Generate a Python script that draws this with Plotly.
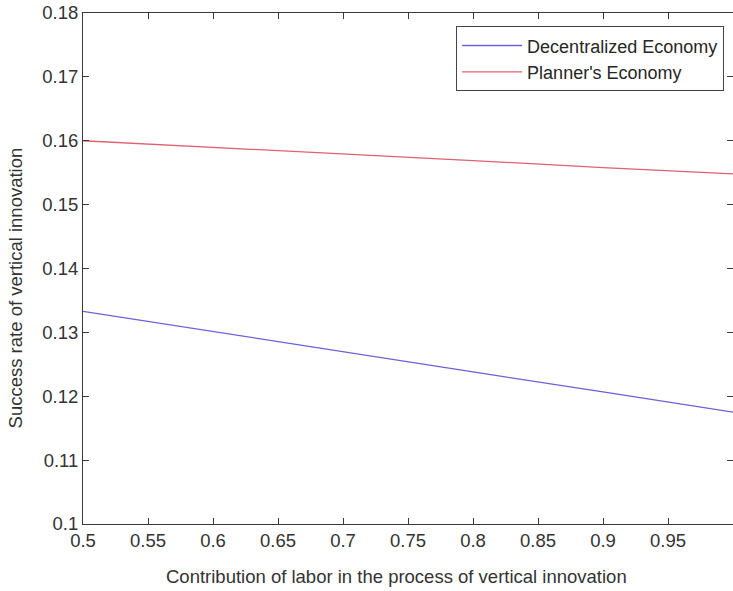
import plotly.graph_objects as go

x_vals = [0.5, 0.6, 0.7, 0.8, 0.9, 1.0]
decentralized = [0.1333, 0.1301, 0.1270, 0.1238, 0.1207, 0.1175]
planner = [0.1600, 0.1590, 0.1579, 0.1569, 0.1558, 0.1548]

x_ticks = [0.5, 0.55, 0.6, 0.65, 0.7, 0.75, 0.8, 0.85, 0.9, 0.95, 1.0]
x_tick_text = ["0.5", "0.55", "0.6", "0.65", "0.7", "0.75", "0.8", "0.85", "0.9", "0.95", "1"]
y_ticks = [0.1, 0.11, 0.12, 0.13, 0.14, 0.15, 0.16, 0.17, 0.18]
y_tick_text = ["0.1", "0.11", "0.12", "0.13", "0.14", "0.15", "0.16", "0.17", "0.18"]

FONT = "Liberation Sans, Arial, sans-serif"
AX = "#3a3a3a"
TXT = "#333333"

fig = go.Figure()
fig.add_trace(go.Scatter(x=x_vals, y=decentralized, mode="lines", name="Decentralized Economy",
                         line=dict(color="#6a63d8", width=1.3)))
fig.add_trace(go.Scatter(x=x_vals, y=planner, mode="lines", name="Planner's Economy",
                         line=dict(color="#e0606e", width=1.3)))

fig.update_layout(
    width=733, height=591, autosize=False,
    margin=dict(l=83, r=0, t=12.5, b=67),
    paper_bgcolor="white", plot_bgcolor="white",
    font=dict(family=FONT, size=18, color=TXT),
    showlegend=True,
    legend=dict(x=0.574, y=0.974, xanchor="left", yanchor="top",
                bordercolor="#444444", borderwidth=1, bgcolor="white",
                font=dict(family=FONT, size=18, color="#262626"),
                tracegroupgap=0, itemwidth=60),
    xaxis=dict(range=[0.5, 1.0], tickvals=x_ticks, ticktext=x_tick_text,
               ticks="inside", ticklen=6, tickcolor=AX, tickwidth=1,
               showline=True, linecolor=AX, linewidth=1, mirror="allticks",
               showgrid=False, zeroline=False, automargin=False,
               tickfont=dict(family=FONT, size=18.5, color=TXT)),
    yaxis=dict(range=[0.1, 0.18], tickvals=y_ticks, ticktext=y_tick_text,
               ticks="inside", ticklen=6, tickcolor=AX, tickwidth=1,
               showline=True, linecolor=AX, linewidth=1, mirror="allticks",
               showgrid=False, zeroline=False, automargin=False,
               tickfont=dict(family=FONT, size=18.5, color=TXT)),
    annotations=[
        dict(text="Contribution of labor in the process of vertical innovation",
             xref="paper", yref="paper", x=0.483, y=-0.103, xanchor="center", yanchor="middle",
             showarrow=False, font=dict(family=FONT, size=18.5, color=TXT)),
        dict(text="Success rate of vertical innovation",
             xref="paper", yref="paper", x=-0.1046, y=0.461, xanchor="center", yanchor="middle",
             textangle=-90, showarrow=False, font=dict(family=FONT, size=18.5, color=TXT)),
    ],
)

fig.write_html(
    "out.html",
    config={"responsive": False, "displayModeBar": False},
    post_script="document.body.style.margin='0px';document.body.style.overflow='hidden';",
)
